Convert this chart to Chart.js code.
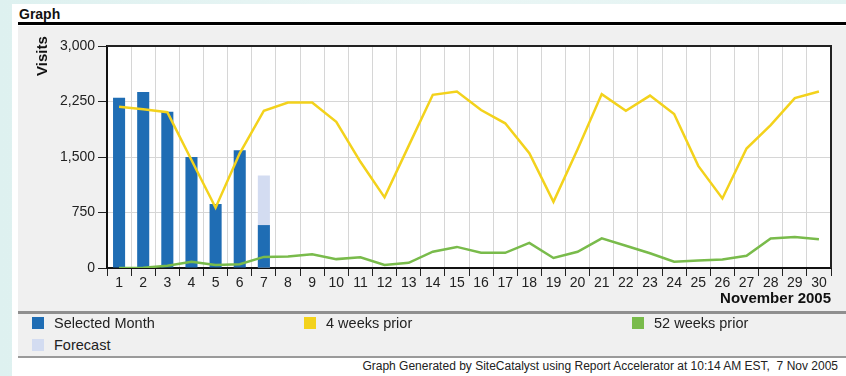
<!DOCTYPE html>
<html>
<head>
<meta charset="utf-8">
<script src="https://cdn.jsdelivr.net/npm/chart.js@4"></script>
<style>
  html, body { margin: 0; padding: 0; }
  body {
    width: 846px; height: 376px; overflow: hidden; position: relative;
    background: linear-gradient(90deg, #def1f0 0%, #eaf6f5 50%, #e3f3f2 100%);
    font-family: "Liberation Sans", Arial, sans-serif;
  }
  #panel { position: absolute; left: 12px; top: 4px; width: 834px; height: 372px; background: #fff; }
  #title { position: absolute; left: 19px; top: 6px; font-weight: bold; font-size: 14px; color: #111; }
  #rule { position: absolute; left: 18px; top: 22px; width: 828px; height: 3px; background: #000; }
  #graphBox { position: absolute; left: 18px; top: 26px; width: 828px; height: 331px; background: #f0f0f0; }
  #chartCanvas { position: absolute; left: 18px; top: 26px; }
  #yTitle {
    position: absolute; left: 41px; top: 56px; font-weight: bold; font-size: 15px; color: #111;
    transform: translate(-50%, -50%) rotate(-90deg); white-space: nowrap;
  }
  #legendTop { position: absolute; left: 18px; top: 311px; width: 828px; height: 3px; background: #8f8f8f; }
  #legendBottom { position: absolute; left: 18px; top: 356px; width: 828px; height: 2px; background: #9a9a9a; }
  .item { position: absolute; font-size: 14.5px; color: #222; line-height: 16px; white-space: nowrap; }
  .swatch { position: absolute; width: 12px; height: 12px; }
  #footer { position: absolute; right: 8px; top: 359px; font-size: 12px; color: #222; white-space: nowrap; }
</style>
</head>
<body>
<div id="panel"></div>
<div id="title">Graph</div>
<div id="rule"></div>
<div id="graphBox"></div>
<canvas id="chartCanvas" width="828" height="286"></canvas>
<div id="yTitle">Visits</div>
<div id="legendTop"></div>
<div id="legendBottom"></div>
<div id="legend"></div>
<div id="footer">Graph Generated by SiteCatalyst using Report Accelerator at 10:14 AM EST,&nbsp; 7 Nov 2005</div>

<script>
// Days of November 2005
const days = ['1', '2', '3', '4', '5', '6', '7', '8', '9', '10', '11', '12', '13', '14', '15',
  '16', '17', '18', '19', '20', '21', '22', '23', '24', '25', '26', '27', '28', '29', '30'];

const selectedMonth = [2300, 2380, 2110, 1500, 865, 1590, 580, null, null, null, null, null, null, null, null,
  null, null, null, null, null, null, null, null, null, null, null, null, null, null, null];

const forecast = [null, null, null, null, null, null, 1250, null, null, null, null, null, null, null, null,
  null, null, null, null, null, null, null, null, null, null, null, null, null, null, null];

const fourWeeksPrior = [2180, 2145, 2105, 1460, 815, 1550, 2125, 2235, 2235, 1975, 1435, 955, 1650, 2340, 2385,
  2135, 1955, 1550, 895, 1605, 2350, 2125, 2330, 2080, 1380, 940, 1615, 1930, 2295, 2385];

const fiftyTwoWeeksPrior = [0, 5, 30, 85, 40, 50, 150, 155, 185, 120, 145, 40, 70, 220, 285,
  205, 205, 340, 135, 220, 400, 300, 200, 85, 100, 115, 165, 400, 420, 390];

const yTicks = [0, 750, 1500, 2250, 3000];

const COLORS = {
  selected: '#1f6db4',
  forecast: '#d3dcf1',
  fourWeeks: '#f3d21c',
  fiftyTwo: '#79bb4b'
};

// Legend (HTML, laid out like the report)
const legendItems = [
  { label: 'Selected Month', color: COLORS.selected, x: 32, y: 317 },
  { label: '4 weeks prior', color: COLORS.fourWeeks, x: 304, y: 317 },
  { label: '52 weeks prior', color: COLORS.fiftyTwo, x: 632, y: 317 },
  { label: 'Forecast', color: COLORS.forecast, x: 32, y: 339 }
];
const legendEl = document.getElementById('legend');
legendItems.forEach(it => {
  legendEl.innerHTML += `
    <div class="swatch" style="left:${it.x}px;top:${it.y}px;background:${it.color}"></div>
    <div class="item" style="left:${it.x + 22}px;top:${it.y - 2}px">${it.label}</div>`;
});

// White plot area + top/right frame
const plotFrame = {
  id: 'plotFrame',
  beforeDraw(chart) {
    const { ctx, chartArea: a } = chart;
    ctx.save();
    ctx.fillStyle = '#ffffff';
    ctx.fillRect(a.left, a.top, a.right - a.left, a.bottom - a.top);
    ctx.restore();
  },
  afterDraw(chart) {
    const { ctx, chartArea: a } = chart;
    ctx.save();
    ctx.strokeStyle = '#222';
    ctx.lineWidth = 2;
    ctx.beginPath();
    ctx.moveTo(a.left, a.top);
    ctx.lineTo(a.right, a.top);
    ctx.lineTo(a.right, a.bottom);
    ctx.stroke();
    ctx.restore();
  }
};

const tickFont = { family: '"Liberation Sans", Arial, sans-serif', size: 14 };

const ctx = document.getElementById('chartCanvas').getContext('2d');
new Chart(ctx, {
  data: {
    labels: days,
    datasets: [
      {
        type: 'line',
        label: '4 weeks prior',
        data: fourWeeksPrior,
        borderColor: COLORS.fourWeeks,
        borderWidth: 2.5,
        pointRadius: 0,
        tension: 0,
        order: 0
      },
      {
        type: 'line',
        label: '52 weeks prior',
        data: fiftyTwoWeeksPrior,
        borderColor: COLORS.fiftyTwo,
        borderWidth: 2.5,
        pointRadius: 0,
        tension: 0,
        order: 0
      },
      {
        type: 'bar',
        label: 'Selected Month',
        data: selectedMonth,
        backgroundColor: COLORS.selected,
        grouped: false,
        barPercentage: 0.5,
        categoryPercentage: 1,
        order: 1
      },
      {
        type: 'bar',
        label: 'Forecast',
        data: forecast,
        backgroundColor: COLORS.forecast,
        grouped: false,
        barPercentage: 0.5,
        categoryPercentage: 1,
        order: 2
      }
    ]
  },
  options: {
    responsive: false,
    animation: false,
    layout: { padding: { top: 20, right: 15, left: 0, bottom: 0 } },
    scales: {
      x: {
        offset: true,
        afterFit: (scale) => { scale.height = 44; },
        grid: {
          offset: true,
          color: '#d6d6d6',
          tickColor: '#222',
          tickLength: 8
        },
        border: { color: '#111', width: 2 },
        ticks: {
          autoSkip: false,
          maxRotation: 0,
          padding: -1,
          color: '#222',
          font: tickFont
        },
        title: {
          display: true,
          text: 'November 2005',
          align: 'end',
          color: '#111',
          font: { family: '"Liberation Sans", Arial, sans-serif', size: 15, weight: 'bold' },
          padding: { top: 0, bottom: 4 }
        }
      },
      y: {
        min: 0,
        max: 3000,
        afterFit: (scale) => { scale.width = 89; },
        afterBuildTicks: (scale) => { scale.ticks = yTicks.map(v => ({ value: v })); },
        grid: {
          color: '#d6d6d6',
          tickColor: '#222',
          tickLength: 9
        },
        border: { color: '#111', width: 2 },
        ticks: {
          padding: 3,
          color: '#222',
          font: tickFont,
          callback: (v) => v.toLocaleString('en-US')
        }
      }
    },
    plugins: {
      legend: { display: false },
      tooltip: { enabled: false }
    }
  },
  plugins: [plotFrame]
});
</script>
</body>
</html>
